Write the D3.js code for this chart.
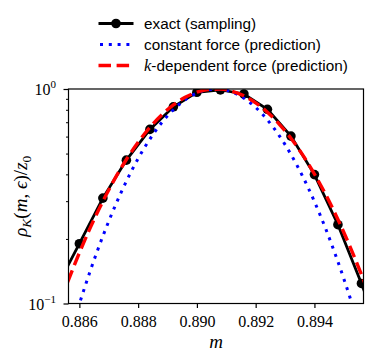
<!DOCTYPE html>
<html><head><meta charset="utf-8">
<script src="https://cdn.jsdelivr.net/npm/d3@7"></script>
<style>body{margin:0;background:#fff}</style>
</head><body>
<svg id="c" width="382" height="357"></svg>
<script>
const exactM = [0.8852,0.8860,0.8868,0.8876,0.8884,0.8892,0.8900,0.8908,0.8916,0.8924,0.8932,0.8940,0.8948,0.8956,0.8964];
const exactRho = [0.117,0.190,0.310,0.466,0.648,0.826,0.965,0.990,0.948,0.804,0.603,0.399,0.233,0.124,0.062];
const predM = [0.8856,0.8860,0.8864,0.8868,0.8872,0.8876,0.8880,0.8884,0.8888,0.8892,0.8896,0.8900,0.8904,0.8908,0.8912,0.8916,0.8920,0.8924,0.8928,0.8932,0.8936,0.8940,0.8944,0.8948,0.8952,0.8956,0.8960];
const constRho = [0.0658,0.0996,0.1458,0.2061,0.2815,0.3716,0.4739,0.5840,0.6960,0.8006,0.8906,0.9571,0.9938,0.9973,0.9670,0.9060,0.8202,0.7177,0.6067,0.4956,0.3913,0.2985,0.2200,0.1566,0.1078,0.0717,0.0461];
const kdepRho = [0.1257,0.1723,0.2302,0.2996,0.3798,0.4693,0.5649,0.6627,0.7570,0.8429,0.9144,0.9662,0.9949,0.9982,0.9757,0.9293,0.8623,0.7796,0.6866,0.5895,0.4929,0.4016,0.3188,0.2465,0.1857,0.1364,0.0975];
const xTicks = [0.886,0.888,0.890,0.892,0.894];
const yTicks = [0.1,1];
const yTickExp = ["\u22121","0"];
const yMinorTicks = [0.2,0.3,0.4,0.5,0.6,0.7,0.8,0.9];
const legendLabels = ["exact (sampling)","constant force (prediction)","-dependent force (prediction)"];

const svg = d3.select("#c");
svg.append("rect").attr("width",382).attr("height",357).attr("fill","#fff");
const L=68.5, R=363.5, T=89, B=303.5;
const serif = "'Liberation Serif', 'DejaVu Serif', serif";
const sans = "'Liberation Sans', Arial, sans-serif";

const x = d3.scaleLinear().domain([0.88563,0.89567]).range([L,R]);
const y = d3.scaleLog().domain([0.1,1]).range([B,T]);

svg.append("clipPath").attr("id","clip").append("rect")
  .attr("x",L).attr("y",T).attr("width",R-L).attr("height",B-T);

const g = svg.append("g").attr("clip-path","url(#clip)");
const lineLin = d3.line().x(d=>x(d[0])).y(d=>y(d[1]));
const lineSmooth = d3.line().x(d=>x(d[0])).y(d=>y(d[1])).curve(d3.curveMonotoneX);

const exactData = exactM.map((m,i)=>[m,exactRho[i]]);
g.append("path").datum(exactData).attr("d",lineLin)
  .attr("fill","none").attr("stroke","#000").attr("stroke-width",2.8);
g.selectAll("circle.ex").data(exactData).join("circle")
  .attr("cx",d=>x(d[0])).attr("cy",d=>y(d[1])).attr("r",4.8).attr("fill","#000");
g.append("path").datum(predM.map((m,i)=>[m,constRho[i]])).attr("d",lineSmooth)
  .attr("fill","none").attr("stroke","#0000ff").attr("stroke-width",3)
  .attr("stroke-dasharray","3,5.8");
g.append("path").datum(predM.map((m,i)=>[m,kdepRho[i]])).attr("d",lineSmooth)
  .attr("fill","none").attr("stroke","#ff0000").attr("stroke-width",3.4)
  .attr("stroke-dasharray","12.5,5.6");

// axes
const xAxis = svg.append("g").attr("transform",`translate(0,${B})`)
  .call(d3.axisBottom(x).tickValues(xTicks).tickSize(4.5).tickSizeOuter(0).tickFormat(d3.format(".3f")));
xAxis.select(".domain").remove();
xAxis.selectAll("line").attr("stroke","#000").attr("stroke-width",1.2);
xAxis.selectAll("text").attr("font-family",serif).attr("font-size",16).attr("fill","#000").attr("dy","0.98em");

const yMinor = svg.append("g").attr("transform",`translate(${L},0)`)
  .call(d3.axisLeft(y).tickValues(yMinorTicks).tickSize(2.5).tickFormat(""));
yMinor.select(".domain").remove();
yMinor.selectAll("line").attr("stroke","#000").attr("stroke-width",1);

const yAxis = svg.append("g").attr("transform",`translate(${L},0)`)
  .call(d3.axisLeft(y).tickValues(yTicks).tickSize(5).tickFormat(""));
yAxis.select(".domain").remove();
yAxis.selectAll("line").attr("stroke","#000").attr("stroke-width",1.2);
yAxis.selectAll(".tick").each(function(d,i){
  const t = d3.select(this).append("text").attr("x",-12.5).attr("y",5.5)
    .attr("text-anchor","end").attr("font-family",serif).attr("font-size",16).attr("fill","#000");
  t.append("tspan").text("10");
  t.append("tspan").attr("dy",-7).attr("font-size",11).text(yTickExp[yTicks.indexOf(d)]);
});

svg.append("rect").attr("x",L).attr("y",T).attr("width",R-L).attr("height",B-T)
  .attr("fill","none").attr("stroke","#000").attr("stroke-width",1.2);

// axis labels
svg.append("text").attr("x",(L+R)/2).attr("y",348).attr("text-anchor","middle")
  .attr("font-family",serif).attr("font-style","italic").attr("font-size",19).text("m");

const yl = svg.append("text").attr("transform",`translate(27,${(T+B)/2}) rotate(-90)`)
  .attr("text-anchor","middle").attr("font-family",serif).attr("font-size",19);
yl.append("tspan").attr("font-style","italic").text("\u03C1");
yl.append("tspan").attr("font-style","italic").attr("font-size",13.5).attr("dy",4).text("K");
yl.append("tspan").attr("dy",-4).text("(");
yl.append("tspan").attr("font-style","italic").text("m");
yl.append("tspan").text(", ");
yl.append("tspan").attr("font-style","italic").text("\u03F5");
yl.append("tspan").text(")/");
yl.append("tspan").attr("font-style","italic").text("z");
yl.append("tspan").attr("font-size",13.5).attr("dy",4).text("0");

// legend
const rows = [23.5,44.5,65.5];
const lg = svg.append("g");
lg.append("line").attr("x1",98.5).attr("x2",133.5).attr("y1",rows[0]).attr("y2",rows[0]).attr("stroke","#000").attr("stroke-width",2.8);
lg.append("circle").attr("cx",116).attr("cy",rows[0]).attr("r",4.8).attr("fill","#000");
lg.append("line").attr("x1",100).attr("x2",133.5).attr("y1",rows[1]).attr("y2",rows[1]).attr("stroke","#0000ff").attr("stroke-width",3).attr("stroke-dasharray","3,5.8");
lg.append("line").attr("x1",98.5).attr("x2",133.5).attr("y1",rows[2]).attr("y2",rows[2]).attr("stroke","#ff0000").attr("stroke-width",3.4).attr("stroke-dasharray","12.5,5.6");
legendLabels.forEach((lab,i)=>{
  const t = lg.append("text").attr("x",144).attr("y",rows[i]).attr("dy","0.36em")
    .attr("font-family",sans).attr("font-size",15.3).attr("fill","#000");
  if(i===2){ t.append("tspan").attr("font-family",serif).attr("font-style","italic").attr("font-size",16.5).text("k"); }
  t.append("tspan").text(lab);
});
</script>
</body></html>
